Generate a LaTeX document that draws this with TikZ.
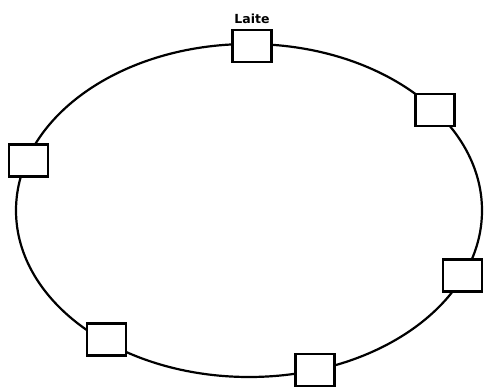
\documentclass[tikz,border=0pt]{standalone}
\usepackage{fontspec}
\setmainfont{DejaVu Sans}
\begin{document}
\begin{tikzpicture}[x=1pt,y=-1pt,
  dev/.style={draw=black,fill=white,line width=2.8pt,minimum width=39pt,minimum height=32pt,inner sep=0pt},
  ring/.style={draw=black,line width=2.2pt},
  lbl/.style={font=\fontsize{12.5}{14}\selectfont\bfseries,inner sep=0pt}]
\useasboundingbox (0,0) rectangle (484,387);
\draw[ring] (249,210.5) ellipse [x radius=233, y radius=166.5];
\node[dev] (d1) at (252,46) {};
\node[dev] (d2) at (28.5,160.5) {};
\node[dev] (d3) at (435,110) {};
\node[dev] (d4) at (462.5,275.5) {};
\node[dev] (d5) at (106.5,339.5) {};
\node[dev] (d6) at (315,370) {};
\node[lbl,anchor=base] (t1) at (252,24) {Laite};
\end{tikzpicture}
\end{document}
